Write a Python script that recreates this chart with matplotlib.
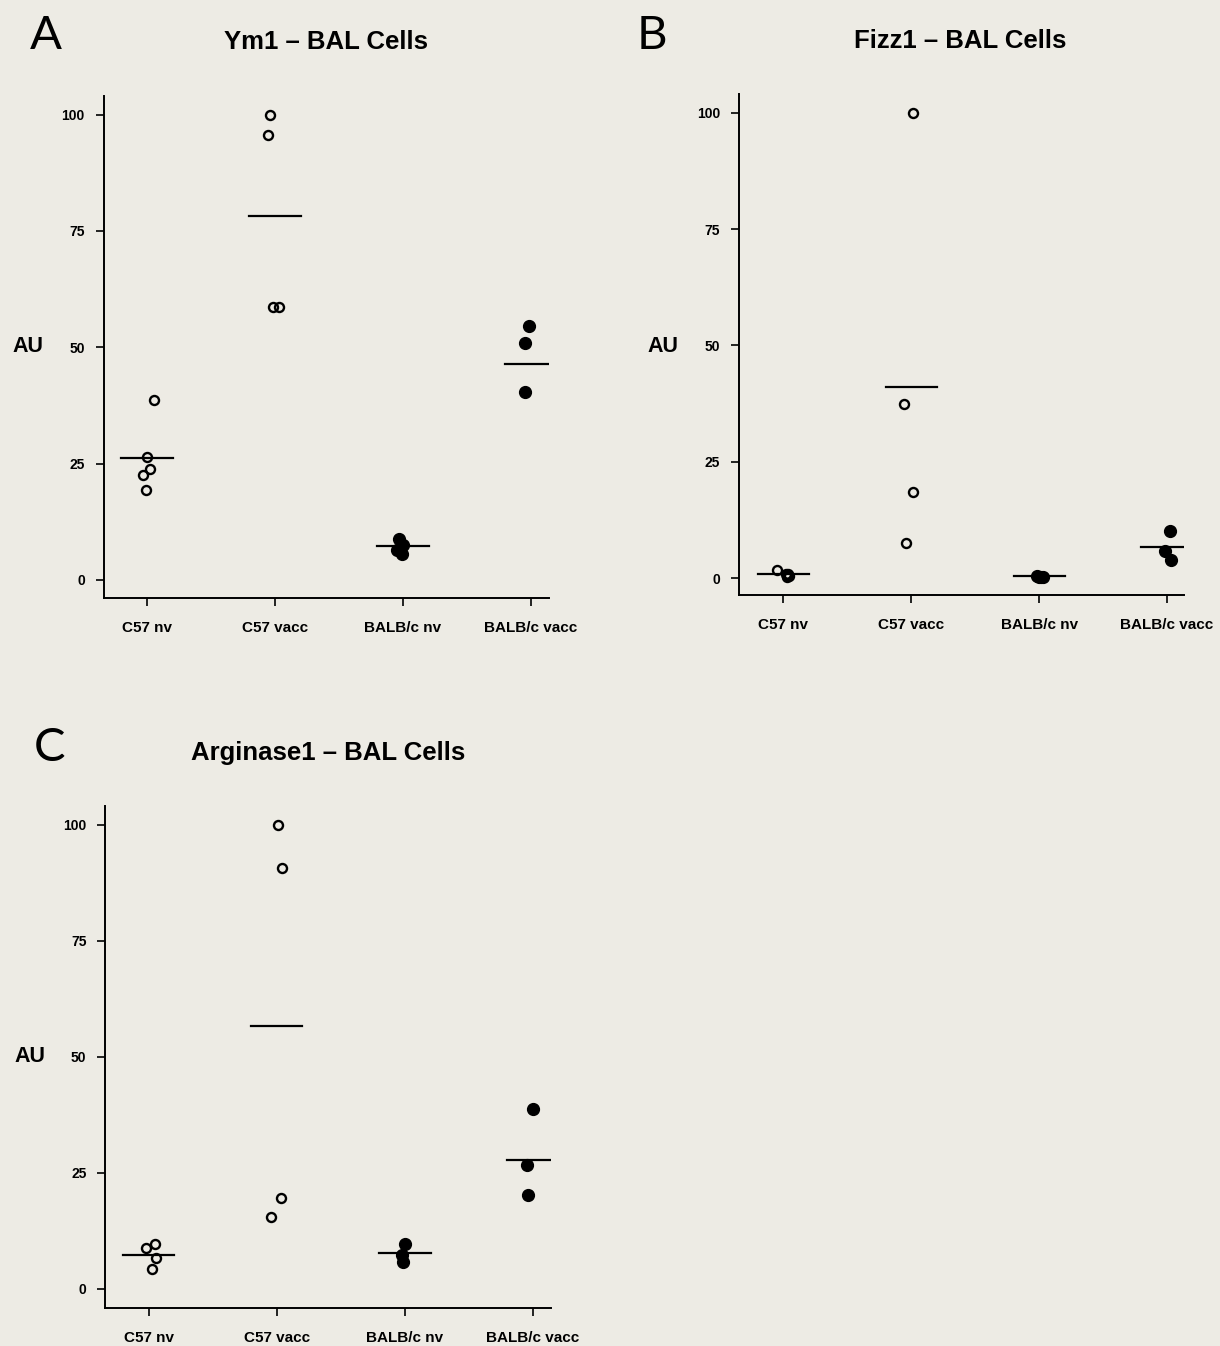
import matplotlib
matplotlib.use('Agg')
import matplotlib.pyplot as plt

# group labels shared by all three panels
groups = ['C57 nv', 'C57 vacc', 'BALB/c nv', 'BALB/c vacc']
open_marker = [True, True, False, False]

# Ym1 - BAL cells (AU)
ym1_vals = [[38.6, 26.5, 23.9, 22.5, 19.4],
            [100.0, 95.7, 58.7, 58.7],
            [8.8, 7.6, 6.4, 5.6],
            [54.5, 50.9, 40.5]]
ym1_means = [26.2, 78.3, 7.2, 46.4]

# Fizz1 - BAL cells (AU)
fizz1_vals = [[1.7, 1.0, 0.8, 0.5, 0.4, 0.3],
              [100.0, 37.4, 18.6, 7.6],
              [0.4, 0.3, 0.3, 0.2],
              [10.1, 5.9, 4.0]]
fizz1_means = [1.0, 41.1, 0.4, 6.8]

# Arginase1 - BAL cells (AU)
arg1_vals = [[9.7, 8.8, 6.6, 4.3],
             [100.0, 90.6, 19.6, 15.4],
             [9.7, 7.4, 5.8],
             [38.7, 26.7, 20.2]]
arg1_means = [7.2, 56.6, 7.7, 27.8]

# horizontal scatter of the dots inside each group
ym1_jitter = [[0.055, 0.0, 0.023, -0.031, -0.008],
              [-0.043, -0.053, -0.015, 0.034],
              [-0.03, 0.0, -0.045, -0.005],
              [-0.016, -0.047, -0.044]]
fizz1_jitter = [[-0.053, 0.02, 0.035, 0.028, 0.04, 0.03],
                [0.017, -0.056, 0.012, -0.041],
                [-0.02, 0.0, 0.015, 0.03],
                [0.023, -0.016, 0.029]]
arg1_jitter = [[0.051, -0.018, 0.062, 0.03],
               [0.009, 0.042, 0.03, -0.044],
               [0.0, -0.02, -0.015],
               [0.0, -0.047, -0.039]]

BG = '#edebe4'
W, H = 1220, 1346
bold = dict(family='Liberation Sans', fontweight='bold')

fig = plt.figure(figsize=(W / 100, H / 100), dpi=100, facecolor=BG)


def px(x, y):
    return x / W, 1 - y / H


def draw_panel(rect, vals, jitter, means, xlim, ylim):
    ax = fig.add_axes(rect)
    ax.set_facecolor('none')
    for i, (v, j, m) in enumerate(zip(vals, jitter, means)):
        xs = [i + d for d in j]
        if open_marker[i]:
            ax.plot(xs, v, 'o', ms=6.5, mew=1.7, mec='black', mfc='none',
                    linestyle='none', zorder=3)
        else:
            ax.plot(xs, v, 'o', ms=8.5, mec='black', mfc='black',
                    linestyle='none', zorder=3)
        ax.plot([i - 0.2, i + 0.2], [m, m], color='black', lw=1.6, zorder=2)
    ax.set_xlim(*xlim)
    ax.set_ylim(*ylim)
    ax.set_xticks(range(len(groups)))
    ax.set_xticklabels(groups, fontsize=11, **bold)
    ax.set_yticks([0, 25, 50, 75, 100])
    ax.set_yticklabels(['0', '25', '50', '75', '100'], fontsize=10, **bold)
    for s in ['top', 'right']:
        ax.spines[s].set_visible(False)
    for s in ['left', 'bottom']:
        ax.spines[s].set_linewidth(1.4)
    ax.tick_params(direction='out', length=5.5, width=1.2)
    ax.tick_params(axis='x', pad=11)
    ax.tick_params(axis='y', pad=8)
    return ax


draw_panel([103.5 / W, 1 - 598 / H, 445.5 / W, 502 / H],
           ym1_vals, ym1_jitter, ym1_means, (-0.34, 3.14), (-3.87, 104))
draw_panel([739 / W, 1 - 595.4 / H, 445 / W, 501.4 / H],
           fizz1_vals, fizz1_jitter, fizz1_means, (-0.348, 3.134), (-3.69, 104))
draw_panel([105.2 / W, 1 - 1307.7 / H, 445.8 / W, 501.7 / H],
           arg1_vals, arg1_jitter, arg1_means, (-0.338, 3.14), (-4.05, 104))

# panel letters
for letter, (x, y) in [('A', (46, 36)), ('B', (652, 36)), ('C', (50, 748))]:
    fig.text(*px(x, y), letter, fontsize=34, family='Lato', fontweight='normal',
             ha='center', va='center')

# panel titles
for title, (x, y) in [('Ym1 – BAL Cells', (326, 42)),
                      ('Fizz1 – BAL Cells', (960, 41)),
                      ('Arginase1 – BAL Cells', (328, 753))]:
    fig.text(*px(x, y), title, fontsize=18.5, ha='center', va='center', **bold)

# y axis labels
for x, y in [(28, 347), (663, 346), (30, 1057)]:
    fig.text(*px(x, y), 'AU', fontsize=15.5, ha='center', va='center', **bold)

fig.savefig('out.png', dpi=100, facecolor=BG)
